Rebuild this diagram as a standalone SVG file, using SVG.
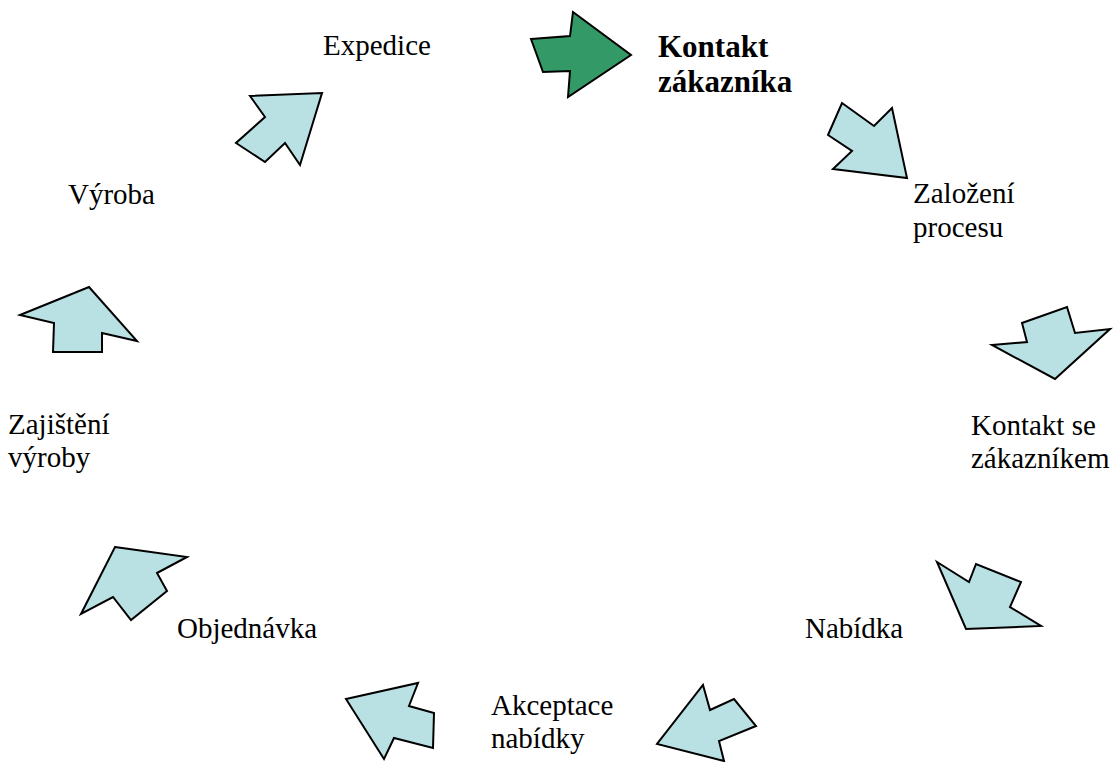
<svg xmlns="http://www.w3.org/2000/svg" width="1115" height="762" viewBox="0 0 1115 762">
  <style>
    .lbl { font-family: "Liberation Serif", "Times New Roman", serif; font-size: 29px; fill: #000; }
    .hl { font-weight: bold; font-size: 31px; }
    .arrow { fill: #b9e0e3; stroke: #000; stroke-width: 2; stroke-linejoin: miter; }
    .arrow.active { fill: #339966; }
  </style>
  <rect width="1115" height="762" fill="#fff"/>

  <!-- arrows of the cycle -->
  <g id="connectors">
    <polygon class="arrow active" points="531,39 570,36 573,12 631,55 568,97 570,71 543,72"/>
    <polygon class="arrow" points="842,103 874,126 892,108 907,178 833,169 852,151 828,135"/>
    <polygon class="arrow" points="992,345 1027,342 1022,323 1067,307 1075,333 1110,329 1055,379"/>
    <polygon class="arrow" points="937,562 969,582 976,564 1021,582 1010,607 1041,626 966,629"/>
    <polygon class="arrow" points="703,685 710,710 734,699 756,726 719,741 724,761 657,744"/>
    <polygon class="arrow" points="346,699 418,683 409,706 434,713 433,748 394,738 384,759"/>
    <polygon class="arrow" points="115,547 187,557 157,573 167,591 131,620 113,597 81,614"/>
    <polygon class="arrow" points="20,315 89,287 137,341 102,333 102,352 53,352 54,323"/>
    <polygon class="arrow" points="250,96 322,93 300,165 285,143 265,162 236,143 265,117"/>
  </g>

  <!-- process steps -->
  <g id="kontakt-zakaznika">
    <text class="lbl hl" x="658" y="57">Kontakt</text>
    <text class="lbl hl" x="658" y="92">zákazníka</text>
  </g>
  <g id="zalozeni-procesu">
    <text class="lbl" x="913" y="203">Založení</text>
    <text class="lbl" x="913" y="237">procesu</text>
  </g>
  <g id="kontakt-se-zakaznikem">
    <text class="lbl" x="971" y="435">Kontakt se</text>
    <text class="lbl" x="971" y="468">zákazníkem</text>
  </g>
  <g id="nabidka">
    <text class="lbl" x="805" y="638">Nabídka</text>
  </g>
  <g id="akceptace-nabidky">
    <text class="lbl" x="491" y="715">Akceptace</text>
    <text class="lbl" x="491" y="748">nabídky</text>
  </g>
  <g id="objednavka">
    <text class="lbl" x="177" y="638">Objednávka</text>
  </g>
  <g id="zajisteni-vyroby">
    <text class="lbl" x="8" y="434">Zajištění</text>
    <text class="lbl" x="8" y="467">výroby</text>
  </g>
  <g id="vyroba">
    <text class="lbl" x="68" y="204">Výroba</text>
  </g>
  <g id="expedice">
    <text class="lbl" x="323" y="55">Expedice</text>
  </g>
</svg>
